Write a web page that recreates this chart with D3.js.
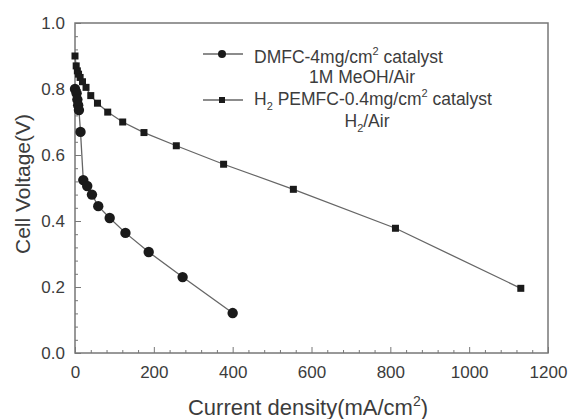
<!DOCTYPE html>
<html>
<head>
<meta charset="utf-8">
<script src="https://cdn.jsdelivr.net/npm/d3@7"></script>
<style>
  body { margin: 0; background: #fff; }
  svg text { font-family: "Liberation Sans", Arial, sans-serif; fill: #3c3c3c; }
</style>
</head>
<body>
<div id="chart"></div>
<script>
    // DMFC: current density (mA/cm2) and cell voltage (V)
    const dmfcCurrent = [0, 4, 6, 8, 10, 14, 21, 31, 43, 59, 88, 128, 187, 273, 400];
    const dmfcVoltage = [0.80, 0.787, 0.768, 0.751, 0.736, 0.67, 0.524, 0.506, 0.48, 0.445, 0.409, 0.364, 0.306, 0.23, 0.121];

    // H2 PEMFC
    const pemCurrent = [0, 3, 6, 9, 13, 19, 28, 40, 57, 83, 121, 175, 257, 377, 554, 813, 1131];
    const pemVoltage = [0.90, 0.87, 0.855, 0.845, 0.835, 0.822, 0.805, 0.78, 0.757, 0.73, 0.70, 0.668, 0.628, 0.572, 0.496, 0.378, 0.196];

    const xTicks = [0, 200, 400, 600, 800, 1000, 1200];
    const yTicks = [0.0, 0.2, 0.4, 0.6, 0.8, 1.0];

    const width = 569, height = 419;
    const margin = { left: 75, right: 21, top: 23, bottom: 66 };

    const svg = d3.select("#chart").append("svg")
        .attr("width", width)
        .attr("height", height);

    const x = d3.scaleLinear().domain([0, 1200]).range([margin.left, width - margin.right]);
    const y = d3.scaleLinear().domain([0, 1.0]).range([height - margin.bottom, margin.top]);

    const axisColor = "#777";

    // frame
    svg.append("rect")
        .attr("x", x(0)).attr("y", y(1))
        .attr("width", x(1200) - x(0)).attr("height", y(0) - y(1))
        .attr("fill", "none").attr("stroke", axisColor).attr("stroke-width", 1.5);

    // minor ticks (inward)
    const xMinor = d3.range(0, 1201, 40).filter(v => v % 200 !== 0);
    const yMinor = d3.range(0, 25).map(i => i * 0.04).filter((v, i) => i % 5 !== 0);

    svg.append("g")
        .attr("transform", `translate(0,${y(0)})`)
        .call(d3.axisBottom(x).tickValues(xMinor).tickSize(-3).tickFormat(""))
        .call(g => g.select(".domain").remove())
        .call(g => g.selectAll("line").attr("stroke", axisColor));

    svg.append("g")
        .attr("transform", `translate(${x(0)},0)`)
        .call(d3.axisLeft(y).tickValues(yMinor).tickSize(-3).tickFormat(""))
        .call(g => g.select(".domain").remove())
        .call(g => g.selectAll("line").attr("stroke", axisColor));

    // major ticks and labels
    svg.append("g")
        .attr("transform", `translate(0,${y(0)})`)
        .call(d3.axisBottom(x).tickValues(xTicks).tickSize(-6).tickPadding(13).tickFormat(d3.format("d")))
        .call(g => g.select(".domain").remove())
        .call(g => g.selectAll("line").attr("stroke", axisColor))
        .call(g => g.selectAll("text").attr("font-size", 17).attr("fill", "#3c3c3c"));

    svg.append("g")
        .attr("transform", `translate(${x(0)},0)`)
        .call(d3.axisLeft(y).tickValues(yTicks).tickSize(-6).tickPadding(10).tickFormat(d3.format(".1f")))
        .call(g => g.select(".domain").remove())
        .call(g => g.selectAll("line").attr("stroke", axisColor))
        .call(g => g.selectAll("text").attr("font-size", 17).attr("fill", "#3c3c3c"));

    // axis titles
    const xTitle = svg.append("text")
        .attr("x", 308)
        .attr("y", 415)
        .attr("text-anchor", "middle")
        .attr("font-size", 22);
    xTitle.append("tspan").text("Current density(mA/cm");
    xTitle.append("tspan").attr("dy", -9).attr("font-size", 14).text("2");
    xTitle.append("tspan").attr("dy", 9).text(")");

    svg.append("text")
        .attr("transform", `translate(30,${(y(0) + y(1)) / 2 - 4}) rotate(-90)`)
        .attr("text-anchor", "middle")
        .attr("font-size", 21)
        .text("Cell Voltage(V)");

    // series
    const dmfc = dmfcCurrent.map((c, i) => ({ c, v: dmfcVoltage[i] }));
    const pem = pemCurrent.map((c, i) => ({ c, v: pemVoltage[i] }));

    const line = d3.line().x(d => x(d.c)).y(d => y(d.v));

    svg.append("path").datum(pem)
        .attr("d", line).attr("fill", "none")
        .attr("stroke", "#666").attr("stroke-width", 1.3);

    svg.append("path").datum(dmfc)
        .attr("d", line).attr("fill", "none")
        .attr("stroke", "#666").attr("stroke-width", 1.3);

    svg.selectAll(".pem").data(pem).enter().append("rect")
        .attr("class", "pem")
        .attr("x", d => x(d.c) - 3.5).attr("y", d => y(d.v) - 3.5)
        .attr("width", 7).attr("height", 7)
        .attr("fill", "#1a1a1a");

    svg.selectAll(".dmfc").data(dmfc).enter().append("circle")
        .attr("class", "dmfc")
        .attr("cx", d => x(d.c)).attr("cy", d => y(d.v))
        .attr("r", 5.2)
        .attr("fill", "#1a1a1a");

    // legend
    const legend = svg.append("g");
    legend.append("line").attr("x1", 203).attr("x2", 243).attr("y1", 54).attr("y2", 54)
        .attr("stroke", "#666").attr("stroke-width", 1.3);
    legend.append("circle").attr("cx", 222).attr("cy", 54).attr("r", 4).attr("fill", "#1a1a1a");

    const t1 = legend.append("text").attr("x", 254).attr("y", 63).attr("font-size", 17.5);
    t1.append("tspan").text("DMFC-4mg/cm");
    t1.append("tspan").attr("dy", -8).attr("font-size", 11).text("2");
    t1.append("tspan").attr("dy", 8).text(" catalyst");

    legend.append("text").attr("x", 362).attr("y", 83).attr("text-anchor", "middle")
        .attr("font-size", 17.5).text("1M MeOH/Air");

    legend.append("line").attr("x1", 203).attr("x2", 243).attr("y1", 100).attr("y2", 100)
        .attr("stroke", "#666").attr("stroke-width", 1.3);
    legend.append("rect").attr("x", 219).attr("y", 97).attr("width", 6).attr("height", 6).attr("fill", "#1a1a1a");

    const t2 = legend.append("text").attr("x", 254).attr("y", 105).attr("font-size", 17.5);
    t2.append("tspan").text("H");
    t2.append("tspan").attr("dy", 5).attr("font-size", 11).text("2");
    t2.append("tspan").attr("dy", -5).text(" PEMFC-0.4mg/cm");
    t2.append("tspan").attr("dy", -8).attr("font-size", 11).text("2");
    t2.append("tspan").attr("dy", 8).text(" catalyst");

    const t3 = legend.append("text").attr("x", 367).attr("y", 127).attr("text-anchor", "middle").attr("font-size", 17.5);
    t3.append("tspan").text("H");
    t3.append("tspan").attr("dy", 5).attr("font-size", 11).text("2");
    t3.append("tspan").attr("dy", -5).text("/Air");
</script>
</body>
</html>
